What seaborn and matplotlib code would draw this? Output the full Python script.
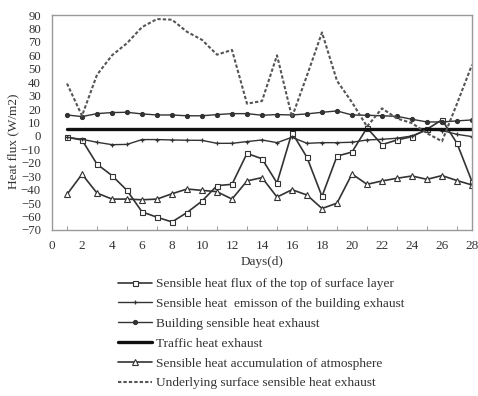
import numpy as np
import pandas as pd
import matplotlib
matplotlib.use("Agg")
import matplotlib.pyplot as plt
import seaborn as sns

days = list(range(1, 29))

surface_top = [-1, -3, -21, -29.5, -40.5, -56.5, -60.5, -64, -57, -48.5, -37, -36, -13, -17,
               -35, 2.5, -16, -45, -15, -12, 6, -6.5, -3, -0.5, 5, 12, -5.5, -34]
building_emission = [-1, -2.5, -4.7, -6.5, -6.3, -2.7, -2.7, -3, -3.2, -3.3, -5.5, -5.5, -4.2, -3,
                     -5, -1, -5.5, -5, -5, -4.7, -3, -2.5, -1.7, 0, 4.5, 4, 1.2, -0.5]
building_exhaust = [15.6, 14.4, 16.6, 17.4, 17.6, 16.4, 15.6, 15.6, 15, 15, 15.9, 16.6, 16.6, 15.4,
                    15.9, 15.6, 16.4, 17.6, 18.6, 15.6, 15.4, 15, 14.6, 12.4, 10.4, 10.4, 11.2, 11.9]
traffic = [5] * 28
atmosphere = [-43.5, -28.5, -42.5, -47, -47, -47.5, -47, -43, -39.5, -40.5, -41.5, -47, -33.5, -31,
              -45.5, -40, -44, -54, -50, -28.3, -36, -33.5, -31.5, -29.8, -32.3, -29.5, -33.2, -36.5]
underlying = [39, 15, 45.5, 60, 69, 81, 87, 86.5, 77.5, 71.5, 60.5, 64, 24, 26,
              60, 14, 45, 77, 41, 25, 7, 20.5, 13, 9.5, 2, -4, 24, 53]

labels = [
    "Sensible heat flux of the top of surface layer",
    "Sensible heat  emisson of the building exhaust",
    "Building sensible heat exhaust",
    "Traffic heat exhaust",
    "Sensible heat accumulation of atmosphere",
    "Underlying surface sensible heat exhaust",
]
x_ticks = list(range(0, 30, 2))
y_ticks = list(range(-70, 100, 10))

sns.set_style("white")
plt.rcParams["font.family"] = ["Liberation Serif", "DejaVu Serif"]

fig = plt.figure(figsize=(4.78, 3.96), dpi=100)
ax = fig.add_axes([52 / 478, 1 - 230 / 396, 420 / 478, 215 / 396])

lc = "#333333"
series = [
    (surface_top, dict(marker="s", markersize=3.6, markerfacecolor="white", markeredgecolor=lc,
                       markeredgewidth=0.8, color=lc, linewidth=1.2)),
    (building_emission, dict(marker="+", markersize=3, markeredgecolor=lc, markeredgewidth=0.9,
                             color=lc, linewidth=1.0)),
    (building_exhaust, dict(marker="o", markersize=3, markerfacecolor=lc, markeredgecolor=lc,
                            color=lc, linewidth=1.0)),
    (traffic, dict(color="#111111", linewidth=2.4)),
    (atmosphere, dict(marker="^", markersize=4.5, markerfacecolor="white", markeredgecolor=lc,
                      markeredgewidth=0.8, color=lc, linewidth=1.2)),
    (underlying, dict(color="#555555", linewidth=1.5, linestyle=(0, (1.6, 1.0)))),
]
for (vals, kw), lab in zip(series, labels):
    sns.lineplot(x=days, y=vals, ax=ax, label=lab, **kw)

ax.set_xlim(0, 28)
ax.set_ylim(-70, 90)
ax.set_xticks(x_ticks)
ax.set_xticks(days, minor=True)
ax.set_yticks(y_ticks)
ax.tick_params(axis="x", which="both", direction="in", length=3, colors="#888888",
               labelcolor="#333333", labelsize=9.5, pad=7, bottom=True)
ax.tick_params(axis="x", which="major", length=0)
ax.tick_params(axis="y", length=0, labelcolor="#333333", labelsize=9.2, pad=8)
for s in ax.spines.values():
    s.set_color("#999999")
    s.set_linewidth(1.0)

ax.set_xlabel("Days(d)", fontsize=9.5, color="#333333", labelpad=3)
ax.set_ylabel("Heat flux (W/m2)", fontsize=9.5, color="#333333")
ax.yaxis.set_label_coords(-0.079, 0.414)

ax.get_legend().remove()
handles, labs = ax.get_legend_handles_labels()
fig.legend(handles, labs, loc="upper left", bbox_to_anchor=(118 / 478, 1 - 278 / 396),
           frameon=False, fontsize=9.6, handlelength=2.55, handletextpad=0.3,
           labelspacing=0.56, borderpad=0, borderaxespad=0, labelcolor="#333333")

fig.savefig("out.png", dpi=100)
